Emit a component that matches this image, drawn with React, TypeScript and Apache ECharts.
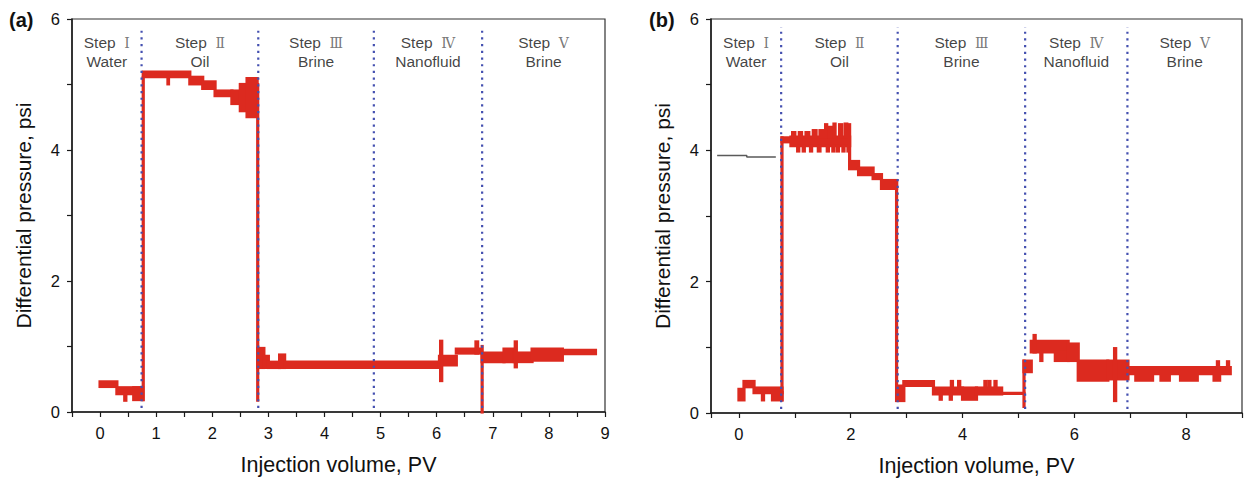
import React, { useEffect, useRef } from "react";
import * as echarts from "echarts";

// ---------- data ----------
const X_MIN = -0.5;
const X_MAX = 9;
const Y_MIN = 0;
const Y_MAX = 6;

const xTicksA = [-0.5, 0, 0.5, 1, 1.5, 2, 2.5, 3, 3.5, 4, 4.5, 5, 5.5, 6, 6.5, 7, 7.5, 8, 8.5, 9];
const xLabelsA = [0, 1, 2, 3, 4, 5, 6, 7, 8, 9];
const xTicksB = [-0.5, 0, 1, 2, 3, 4, 5, 6, 7, 8, 9];
const xLabelsB = [0, 2, 4, 6, 8];
const yLabels = [0, 2, 4, 6];

const dividersA = [0.74, 2.82, 4.88, 6.81];
const dividersB = [0.755, 2.84, 5.12, 6.95];

const romans = ["Ⅰ", "Ⅱ", "Ⅲ", "Ⅳ", "Ⅴ"];
const fluids = ["Water", "Oil", "Brine", "Nanofluid", "Brine"];

// pressure record, as bands: [xStart, xEnd, low, high] (PV, psi)
const bandsA = [
  [0.0, 0.3, 0.39, 0.46],
  [0.3, 0.74, 0.28, 0.37],
  [0.44, 0.46, 0.18, 0.28],
  [0.6, 0.76, 0.19, 0.37],
  [0.77, 0.77, 0.19, 5.1],
  [0.77, 1.6, 5.12, 5.19],
  [1.21, 1.22, 5.01, 5.12],
  [1.6, 1.83, 5.01, 5.11],
  [1.83, 2.05, 4.94, 5.04],
  [2.05, 2.35, 4.83, 4.9],
  [2.35, 2.5, 4.71, 4.9],
  [2.5, 2.62, 4.6, 5.0],
  [2.62, 2.8, 4.51, 5.09],
  [2.81, 2.81, 0.18, 5.0],
  [2.81, 2.92, 0.68, 0.97],
  [2.92, 3.0, 0.68, 0.85],
  [3.0, 3.2, 0.68, 0.76],
  [3.2, 3.29, 0.68, 0.87],
  [3.29, 6.05, 0.68, 0.76],
  [6.05, 6.35, 0.72, 0.85],
  [6.07, 6.09, 0.48, 1.08],
  [6.35, 6.8, 0.9, 0.96],
  [6.7, 6.73, 0.9, 1.07],
  [6.81, 6.81, 0.0, 1.0],
  [6.81, 7.2, 0.77, 0.9],
  [7.2, 7.38, 0.77, 0.96],
  [7.38, 7.7, 0.77, 0.9],
  [7.4, 7.42, 0.69, 1.07],
  [7.7, 8.24, 0.79, 0.96],
  [8.24, 8.83, 0.89, 0.94],
];

const bandsB = [
  [0.0, 0.09, 0.2, 0.36],
  [0.09, 0.27, 0.4, 0.48],
  [0.27, 0.77, 0.31, 0.38],
  [0.42, 0.44, 0.2, 0.31],
  [0.6, 0.77, 0.2, 0.31],
  [0.77, 0.77, 0.2, 4.19],
  [0.77, 0.93, 4.13, 4.19],
  [0.93, 1.98, 4.07, 4.2],
  [0.96, 1.0, 4.2, 4.27],
  [1.08, 1.12, 4.2, 4.27],
  [1.2, 1.25, 4.2, 4.27],
  [1.33, 1.38, 4.2, 4.3],
  [1.45, 1.5, 4.2, 4.3],
  [1.55, 1.57, 4.2, 4.39],
  [1.62, 1.66, 4.2, 4.35],
  [1.7, 1.72, 4.2, 4.4],
  [1.8, 1.84, 4.2, 4.39],
  [1.9, 1.93, 4.2, 4.4],
  [1.05, 1.07, 3.99, 4.07],
  [1.15, 1.17, 3.99, 4.07],
  [1.28, 1.3, 3.99, 4.07],
  [1.42, 1.45, 3.99, 4.07],
  [1.58, 1.6, 3.99, 4.07],
  [1.68, 1.7, 3.99, 4.07],
  [1.76, 1.78, 3.99, 4.07],
  [1.86, 1.88, 3.99, 4.07],
  [1.95, 1.97, 3.99, 4.07],
  [1.98, 1.98, 3.85, 4.39],
  [1.98, 2.14, 3.72, 3.83],
  [2.14, 2.4, 3.63, 3.73],
  [2.4, 2.55, 3.57, 3.63],
  [2.55, 2.82, 3.42, 3.54],
  [2.82, 2.82, 0.19, 3.54],
  [2.82, 2.95, 0.19, 0.41],
  [2.95, 3.48, 0.42, 0.48],
  [3.48, 4.0, 0.29, 0.38],
  [3.6, 3.62, 0.21, 0.29],
  [3.78, 3.8, 0.21, 0.29],
  [3.8, 3.82, 0.38, 0.48],
  [3.93, 3.95, 0.38, 0.48],
  [4.0, 4.25, 0.21, 0.38],
  [4.25, 4.7, 0.29, 0.38],
  [4.4, 4.42, 0.38, 0.48],
  [4.47, 4.49, 0.38, 0.48],
  [4.58, 4.6, 0.38, 0.48],
  [4.7, 5.1, 0.3, 0.3],
  [5.1, 5.1, 0.1, 0.79],
  [5.1, 5.23, 0.63, 0.79],
  [5.23, 5.89, 0.93, 1.09],
  [5.28, 5.3, 0.93, 1.18],
  [5.4, 5.42, 0.8, 0.93],
  [5.66, 5.89, 0.8, 0.93],
  [5.89, 6.07, 0.8, 1.05],
  [6.07, 6.6, 0.5, 0.79],
  [6.6, 6.96, 0.52, 0.79],
  [6.72, 6.74, 0.19, 0.98],
  [6.96, 8.79, 0.6, 0.69],
  [7.1, 7.4, 0.5, 0.6],
  [7.55, 7.7, 0.5, 0.6],
  [7.9, 8.2, 0.5, 0.6],
  [8.5, 8.6, 0.5, 0.6],
  [8.56, 8.58, 0.69, 0.78],
  [8.74, 8.76, 0.69, 0.78],
];

// thin baseline trace before oil injection in (b)
const baselineB = [
  [-0.39, 3.92],
  [0.14, 3.92],
  [0.14, 3.9],
  [0.66, 3.9],
];

const DIVIDER_LOW = 0.06;
const DIVIDER_HIGH = 5.88;
const LABEL_Y = 5.49;

// ---------- styles ----------
const RED = "#dc2a1f";
const BLUE = "#4450b0";
const AXIS = "#1a1a1a";
const FONT = "'Liberation Sans', Arial, sans-serif";

function bandSeries(data: number[][], idx: number) {
  return {
    type: "custom",
    xAxisIndex: idx,
    yAxisIndex: idx,
    z: 2,
    encode: { x: [0, 1], y: [2, 3] },
    data,
    renderItem: (_p: any, api: any) => {
      const x0 = api.value(0);
      const x1 = api.value(1);
      const lo = api.value(2);
      const hi = api.value(3);
      const a = api.coord([x0, hi]);
      const b = api.coord([x1, lo]);
      const h = 1.6;
      return {
        type: "rect",
        shape: { x: a[0] - h, y: a[1] - h, width: b[0] - a[0] + 2 * h, height: b[1] - a[1] + 2 * h },
        style: { fill: RED },
      };
    },
  };
}

function dividerSeries(divs: number[], idx: number) {
  return divs.map((x) => ({
    type: "line",
    xAxisIndex: idx,
    yAxisIndex: idx,
    z: 5,
    symbol: "none",
    silent: true,
    data: [
      [x, DIVIDER_LOW],
      [x, DIVIDER_HIGH],
    ],
    lineStyle: { color: BLUE, width: 2.2, type: [2.2, 4.5] },
  }));
}

function labelSeries(divs: number[], idx: number) {
  const bounds = [X_MIN, ...divs, X_MAX];
  const data = romans.map((r, i) => ({
    value: [(bounds[i] + bounds[i + 1]) / 2, LABEL_Y],
    roman: r,
    fluid: fluids[i],
  }));
  return {
    type: "scatter",
    xAxisIndex: idx,
    yAxisIndex: idx,
    symbolSize: 0,
    silent: true,
    z: 6,
    data,
    label: {
      show: true,
      position: "inside",
      formatter: (p: any) => `{s|Step  }{r|${p.data.roman}}\n{s|${p.data.fluid}}`,
      rich: {
        s: { fontFamily: FONT, fontSize: 15.5, color: "#111", lineHeight: 19, align: "center" },
        r: {
          fontFamily: "'DejaVu Serif', 'Noto Sans CJK SC', serif",
          fontSize: 14,
          color: "#555",
          lineHeight: 19,
        },
      },
    },
  };
}

function xAxis(idx: number, ticks: number[], labels: number[]) {
  return {
    type: "value",
    gridIndex: idx,
    min: X_MIN,
    max: X_MAX,
    name: "Injection volume, PV",
    nameLocation: "middle",
    nameGap: 42,
    nameTextStyle: { fontFamily: FONT, fontSize: 21.5, color: "#111" },
    axisLine: { show: true, onZero: false, lineStyle: { color: AXIS, width: 1.5 } },
    axisTick: { show: true, length: 5, customValues: ticks, lineStyle: { color: AXIS, width: 1.2 } },
    axisLabel: { customValues: labels, fontFamily: FONT, fontSize: 16.5, color: "#111", margin: 12 },
    splitLine: { show: false },
  };
}

function yAxis(idx: number) {
  return {
    type: "value",
    gridIndex: idx,
    min: Y_MIN,
    max: Y_MAX,
    interval: 1,
    name: "Differential pressure, psi",
    nameLocation: "middle",
    nameGap: 38,
    nameTextStyle: { fontFamily: FONT, fontSize: 21, color: "#111" },
    axisLine: { show: true, onZero: false, lineStyle: { color: AXIS, width: 1.5 } },
    axisTick: { show: true, length: 5, lineStyle: { color: AXIS, width: 1.2 } },
    axisLabel: {
      formatter: (v: number) => (yLabels.includes(v) ? String(v) : ""),
      fontFamily: FONT,
      fontSize: 16.5,
      color: "#111",
      margin: 12,
    },
    splitLine: { show: false },
  };
}

export default function App() {
  const ref = useRef<HTMLDivElement>(null);
  useEffect(() => {
    if (!ref.current) return;
    const chart = echarts.init(ref.current, null, { renderer: "svg" });
    chart.setOption({
      animation: false,
      backgroundColor: "#fff",
      grid: [
        { left: 72, top: 19, width: 533, height: 393, show: true, borderColor: "#333", borderWidth: 1.2 },
        { left: 711, top: 19, width: 531, height: 394, show: true, borderColor: "#333", borderWidth: 1.2 },
      ],
      xAxis: [xAxis(0, xTicksA, xLabelsA), xAxis(1, xTicksB, xLabelsB)],
      yAxis: [yAxis(0), yAxis(1)],
      graphic: [
        { type: "text", left: 9, top: 10, style: { text: "(a)", font: `bold 20px ${FONT}`, fill: "#111" } },
        { type: "text", left: 649, top: 10, style: { text: "(b)", font: `bold 20px ${FONT}`, fill: "#111" } },
      ],
      series: [
        bandSeries(bandsA, 0),
        bandSeries(bandsB, 1),
        {
          type: "line",
          xAxisIndex: 1,
          yAxisIndex: 1,
          symbol: "none",
          data: baselineB,
          lineStyle: { color: "#5a5a5a", width: 1.5 },
          z: 2,
        },
        ...dividerSeries(dividersA, 0),
        ...dividerSeries(dividersB, 1),
        labelSeries(dividersA, 0),
        labelSeries(dividersB, 1),
      ],
    });
    return () => chart.dispose();
  }, []);
  return (
    <div
      ref={ref}
      style={{ position: "absolute", left: 0, top: 0, width: 1245, height: 484, background: "#fff" }}
    />
  );
}
